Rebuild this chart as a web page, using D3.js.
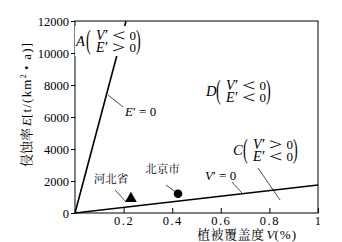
<!DOCTYPE html>
<html>
<head>
<meta charset="utf-8">
<script src="https://cdn.jsdelivr.net/npm/d3@7"></script>
<style>
  body { margin: 0; background: #fff; }
  svg { display: block; }
  .domain, .tick line { stroke: #000; }
</style>
</head>
<body>
<div id="chart"></div>
<script>
// axis ticks
const xTicks = [0.2, 0.4, 0.6, 0.8, 1];
const xTickLabels = ["0.2", "0.4", "0.6", "0.8", "1"];
const yTicks = [0, 2000, 4000, 6000, 8000, 10000, 12000];

// boundary lines: [V, E]
const eZeroLine = [[0, 0], [0.21, 12000]];
const vZeroLine = [[0, 0], [1, 1750]];

// observed points
const pointNames = ["河北省", "北京市"];
const pointV = [0.23, 0.424];
const pointE = [900, 1200];
const pointShapes = ["triangle", "circle"];

const SERIF = "Liberation Serif";
const CJK = "Noto Serif CJK SC, Noto Sans CJK SC";

const width = 342, height = 242;
const plotLeft = 75, plotRight = 318, plotTop = 21, plotBottom = 213;

const svg = d3.select("#chart").append("svg")
    .attr("width", width)
    .attr("height", height);

const x = d3.scaleLinear().domain([0, 1]).range([plotLeft, plotRight]);
const y = d3.scaleLinear().domain([0, 12000]).range([plotBottom, plotTop]);

// frame
svg.append("rect")
    .attr("x", plotLeft).attr("y", plotTop)
    .attr("width", plotRight - plotLeft).attr("height", plotBottom - plotTop)
    .attr("fill", "none").attr("stroke", "#000").attr("stroke-width", 1);

// x axis, ticks pointing inwards
svg.append("g")
    .attr("transform", `translate(0,${plotBottom})`)
    .call(d3.axisBottom(x).tickValues(xTicks).tickSize(-5).tickPadding(3)
        .tickFormat((d, i) => xTickLabels[i]))
    .call(g => g.selectAll(".tick text")
        .attr("font-family", SERIF).attr("font-size", 12.5).attr("fill", "#000")
        .attr("letter-spacing", "1.5px"))
    .call(g => g.select(".domain").remove());

// y axis
svg.append("g")
    .attr("transform", `translate(${plotLeft},0)`)
    .call(d3.axisLeft(y).tickValues(yTicks).tickSize(4).tickPadding(2)
        .tickFormat(d3.format("d")))
    .call(g => g.selectAll(".tick text")
        .attr("font-family", SERIF).attr("font-size", 12.5).attr("fill", "#000"))
    .call(g => g.select(".domain").remove());

// axis titles
const xt = svg.append("text")
    .attr("x", 197).attr("y", 239)
    .attr("font-size", 13).attr("fill", "#000");
xt.append("tspan").attr("font-family", CJK).attr("letter-spacing", "0.5px").text("植被覆盖度");
xt.append("tspan").attr("font-family", SERIF).attr("font-style", "italic").attr("dx", 2).text("V");
xt.append("tspan").attr("font-family", SERIF).attr("letter-spacing", "1px").text("(%)");

const yt = svg.append("text")
    .attr("transform", "translate(31,167) rotate(-90)")
    .attr("font-size", 13).attr("fill", "#000");
yt.append("tspan").attr("font-family", CJK).text("侵蚀率");
yt.append("tspan").attr("font-family", SERIF).attr("font-style", "italic").attr("dx", 2).text("E");
yt.append("tspan").attr("font-family", SERIF).attr("letter-spacing", "1.2px").text("[t/(km");
yt.append("tspan").attr("font-family", SERIF).attr("font-size", 8).attr("dy", -5).text("2");
yt.append("tspan").attr("font-family", SERIF).attr("letter-spacing", "1.2px").attr("dy", 5).text(" • a)]");

// boundary lines
const line = d3.line().x(d => x(d[0])).y(d => y(d[1]));
[eZeroLine, vZeroLine].forEach(l => {
    svg.append("path").attr("d", line(l))
        .attr("fill", "none").attr("stroke", "#000").attr("stroke-width", 1.6);
});

// points
pointNames.forEach((name, i) => {
    const px = x(pointV[i]), py = y(pointE[i]);
    if (pointShapes[i] === "triangle") {
        svg.append("path")
            .attr("d", d3.symbol(d3.symbolTriangle, 60)())
            .attr("transform", `translate(${px},${py})`)
            .attr("fill", "#000");
    } else {
        svg.append("circle").attr("cx", px).attr("cy", py).attr("r", 4.3).attr("fill", "#000");
    }
});

// leader lines [V1, E1, V2, E2]
const leaders = [
    [0.136, 7375, 0.198, 6625],  // E'=0
    [0.646, 1937, 0.687, 1250],  // V'=0
    [0.753, 2812, 0.844, 812],   // C
    [0.165, 1440, 0.21, 690],    // 河北省
    [0.374, 1750, 0.415, 1310]   // 北京市
];
leaders.forEach(a => {
    svg.append("line")
        .attr("x1", x(a[0])).attr("y1", y(a[1]))
        .attr("x2", x(a[2])).attr("y2", y(a[3]))
        .attr("stroke", "#000").attr("stroke-width", 0.7);
});

// place-name labels
const nameLabelPos = [[0.148, 1875], [0.36, 2500]];
pointNames.forEach((name, i) => {
    svg.append("text")
        .attr("x", x(nameLabelPos[i][0])).attr("y", y(nameLabelPos[i][1]))
        .attr("text-anchor", "middle")
        .attr("font-family", CJK).attr("font-size", 11.5)
        .attr("fill", "#000").text(name);
});

// equation labels "E'=0", "V'=0"
function eqLabel(sym, vx, ey) {
    const t = svg.append("text").attr("x", x(vx)).attr("y", y(ey))
        .attr("font-family", SERIF).attr("font-size", 13).attr("fill", "#000");
    t.append("tspan").attr("font-style", "italic").text(sym);
    t.append("tspan").text("′ = 0");
}
eqLabel("E", 0.206, 6062);
eqLabel("V", 0.535, 2062);

// region labels (anchored at left of letter, vertical centre)
const regions = [
    { letter: "A", v: 0.004, e: 10750, s1: "<", s2: ">", bg: true },
    { letter: "D", v: 0.539, e: 7625, s1: "<", s2: "<", bg: false },
    { letter: "C", v: 0.650, e: 3937, s1: ">", s2: "<", bg: false }
];
regions.forEach(r => {
    const g = svg.append("g").attr("transform", `translate(${x(r.v)},${y(r.e)})`)
        .attr("fill", "#000").attr("font-family", SERIF);
    if (r.bg) {
        g.append("rect").attr("x", -1).attr("y", -15).attr("width", 67).attr("height", 30).attr("fill", "#fff");
    }
    g.append("text").attr("x", 0).attr("y", 5)
        .attr("font-style", "italic").attr("font-size", 14.5).text(r.letter);
    g.append("text").attr("transform", "translate(10,7.5) scale(1,2)")
        .attr("font-size", 14).text("(");
    g.append("text").attr("transform", "translate(60,7.5) scale(1,2)")
        .attr("font-size", 14).text(")");
    [[r.s1, "V", -1.5], [r.s2, "E", 11]].forEach(row => {
        const t = g.append("text").attr("x", 20).attr("y", row[2]).attr("font-size", 14);
        t.append("tspan").attr("font-style", "italic").text(row[1]);
        t.append("tspan").attr("font-size", 15).attr("dx", 0.5).text("′");
        g.append("text").attr("transform", `translate(36,${row[2] + 1}) scale(1.4,1)`)
            .attr("font-size", 17).text(row[0]);
        g.append("text").attr("x", 53.5).attr("y", row[2]).attr("font-size", 13).text("0");
    });
});
</script>
</body>
</html>
